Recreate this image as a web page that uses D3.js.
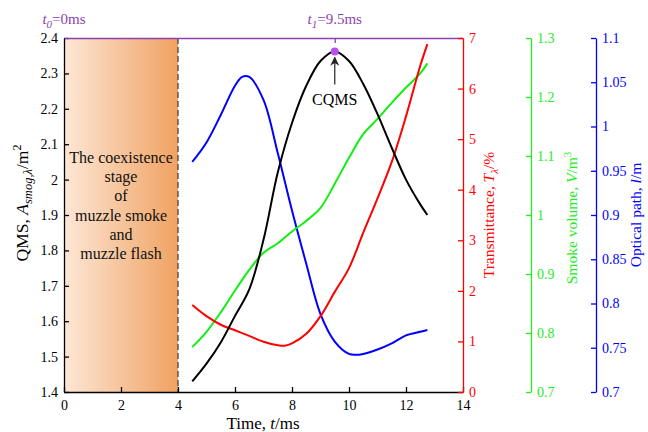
<!DOCTYPE html>
<html><head><meta charset="utf-8">
<script src="https://cdn.jsdelivr.net/npm/d3@7"></script>
<style>body{margin:0;background:#fff}svg{display:block}text{font-family:"Liberation Serif","Times New Roman",serif}</style>
</head><body><svg id="c" width="648" height="432"></svg>
<script>
const timeQMS = [4.5,5,5.5,6,6.5,7,7.5,8,8.5,9,9.5,10,10.5,11,11.5,12,12.5,12.75];
const qms     = [1.43,1.48,1.54,1.615,1.69,1.83,2.02,2.16,2.265,2.335,2.362,2.335,2.27,2.185,2.09,2.0,1.93,1.90];
const timeT   = [4.5,5,5.5,6,6.5,7,7.5,7.75,8,8.5,9,9.5,10,10.5,11,11.5,12,12.5,12.75];
const transm  = [1.72,1.50,1.33,1.22,1.11,0.995,0.925,0.915,0.96,1.15,1.50,1.98,2.45,3.15,3.83,4.55,5.45,6.45,6.88];
const timeV   = [4.5,5,5.5,6,6.5,7,7.5,8,8.5,9,9.5,10,10.5,11,11.5,12,12.5,12.75];
const volume  = [0.776,0.802,0.835,0.872,0.907,0.936,0.952,0.972,0.99,1.012,1.053,1.097,1.137,1.163,1.19,1.216,1.24,1.257];
const timeL   = [4.5,5,5.5,6,6.25,6.5,7,7.5,8,8.5,9,9.5,10,10.25,10.5,11,11.5,12,12.5,12.75];
const optPath = [0.960,0.982,1.013,1.046,1.056,1.056,1.030,0.970,0.905,0.845,0.788,0.757,0.743,0.742,0.743,0.748,0.755,0.764,0.768,0.770];
const xTicks = [0,2,4,6,8,10,12,14];
const qmsTicks = [1.4,1.5,1.6,1.7,1.8,1.9,2.0,2.1,2.2,2.3,2.4];
const tTicks = [0,1,2,3,4,5,6,7];
const vTicks = [0.7,0.8,0.9,1.0,1.1,1.2,1.3];
const lTicks = [0.7,0.75,0.8,0.85,0.9,0.95,1.0,1.05,1.1];
const stageLines = ["The coexistence","stage","of","muzzle smoke","and","muzzle flash"];
const stageEnd = 4, peakT = 9.5;

const svg = d3.select("#c");
const L=64,R=463,T=38,B=392;
const x = d3.scaleLinear().domain([0,14]).range([L,R]);
const yQ = d3.scaleLinear().domain([1.4,2.4]).range([B,T]);
const yT = d3.scaleLinear().domain([0,7]).range([B,T]);
const yV = d3.scaleLinear().domain([0.7,1.3]).range([B,T]);
const yL = d3.scaleLinear().domain([0.7,1.1]).range([B,T]);
const fmt = v => String(+v.toFixed(2));
const purple = "#8e3fae";

// gradient region
const defs = svg.append("defs");
const g = defs.append("linearGradient").attr("id","gr").attr("x1","0").attr("x2","1").attr("y1","0").attr("y2","0");
g.append("stop").attr("offset","0").attr("stop-color","#fde7d6");
g.append("stop").attr("offset","1").attr("stop-color","#f0a262");
svg.append("rect").attr("x",x(0)).attr("y",T).attr("width",x(stageEnd)-x(0)).attr("height",B-T).attr("fill","url(#gr)");
svg.append("line").attr("x1",x(stageEnd)).attr("x2",x(stageEnd)).attr("y1",T).attr("y2",B)
  .attr("stroke","#444").attr("stroke-width",1.3).attr("stroke-dasharray","6,3");
const st = svg.append("text").attr("text-anchor","middle").attr("font-size",16).attr("fill","#111");
stageLines.forEach((s,i)=>st.append("tspan").attr("x",x(2)).attr("y",163+i*19.2).text(s));

function axisStyle(sel,color){
  sel.selectAll("path").attr("stroke",color).attr("stroke-width",1.3);
  sel.selectAll("line").attr("stroke",color).attr("stroke-width",1.3);
  sel.selectAll("text").attr("fill",color).attr("font-size",14).attr("font-family","Liberation Serif");
}
// left axis
const aL = svg.append("g").attr("transform",`translate(${L},0)`)
  .call(d3.axisLeft(yQ).tickValues(qmsTicks).tickFormat(fmt).tickSizeInner(-5).tickSizeOuter(0).tickPadding(6));
axisStyle(aL,"#000");
// bottom axis
const aB = svg.append("g").attr("transform",`translate(0,${B})`)
  .call(d3.axisBottom(x).tickValues(xTicks).tickFormat(fmt).tickSizeInner(-5).tickSizeOuter(0).tickPadding(8));
axisStyle(aB,"#000");
// top purple line
const aT = svg.append("g").attr("transform",`translate(0,${T})`)
  .call(d3.axisBottom(x).tickValues([peakT]).tickFormat("").tickSizeInner(5).tickSizeOuter(0));
axisStyle(aT,purple);
// red axis
const aR = svg.append("g").attr("transform",`translate(${R},0)`)
  .call(d3.axisRight(yT).tickValues(tTicks).tickFormat(fmt).tickSizeInner(-5).tickSizeOuter(0).tickPadding(6));
axisStyle(aR,"#ff0000");
// green axis
const aV = svg.append("g").attr("transform",`translate(531,0)`)
  .call(d3.axisRight(yV).tickValues(vTicks).tickFormat(fmt).tickSizeInner(-5).tickSizeOuter(0).tickPadding(6));
axisStyle(aV,"#22ee22");
// blue axis
const aBl = svg.append("g").attr("transform",`translate(596,0)`)
  .call(d3.axisRight(yL).tickValues(lTicks).tickFormat(fmt).tickSizeInner(-5).tickSizeOuter(0).tickPadding(6));
axisStyle(aBl,"#0000ff");

// lines
function draw(ts,vs,ys,color){
  const line = d3.line().x(d=>x(d[0])).y(d=>ys(d[1])).curve(d3.curveCatmullRom.alpha(0.5));
  svg.append("path").datum(ts.map((t,i)=>[t,vs[i]])).attr("d",line)
    .attr("fill","none").attr("stroke",color).attr("stroke-width",2);
}
draw(timeL,optPath,yL,"#0000ff");
draw(timeV,volume,yV,"#11ee11");
draw(timeT,transm,yT,"#ff0000");
draw(timeQMS,qms,yQ,"#000");

// peak marker & annotation
const peakV = qms[timeQMS.indexOf(peakT)];
defs.append("marker").attr("id","ah").attr("viewBox","0 0 10 10").attr("refX",9).attr("refY",5)
  .attr("markerWidth",7).attr("markerHeight",9).attr("orient","auto")
  .append("path").attr("d","M0,0 L10,5 L0,10 L3,5 Z").attr("fill","#222");
svg.append("line").attr("x1",x(peakT)).attr("x2",x(peakT)).attr("y1",yQ(peakV)+33).attr("y2",yQ(peakV)+6)
  .attr("stroke","#333").attr("stroke-width",1.3).attr("marker-end","url(#ah)");
svg.append("circle").attr("cx",x(peakT)).attr("cy",yQ(peakV)).attr("r",4).attr("fill","#b84ff0");
svg.append("text").attr("x",x(peakT)).attr("y",yQ(peakV)+54).attr("text-anchor","middle").attr("font-size",16).text("CQMS");

// top labels
function tLabel(xp,sub,val){
  const t = svg.append("text").attr("x",xp).attr("y",24).attr("text-anchor","middle").attr("font-size",15).attr("fill",purple);
  t.append("tspan").attr("font-style","italic").text("t");
  t.append("tspan").attr("font-style","italic").attr("font-size",11).attr("dy",4).text(sub);
  t.append("tspan").attr("dy",-4).text("="+val+"ms");
}
tLabel(x(0),"0","0");
tLabel(x(peakT),"1",String(peakT));

// axis titles
const xt = svg.append("text").attr("x",263).attr("y",429).attr("text-anchor","middle").attr("font-size",17);
xt.append("tspan").text("Time, ");
xt.append("tspan").attr("font-style","italic").text("t");
xt.append("tspan").text("/ms");

function vLabel(xp,yp,color,size,parts){
  const t = svg.append("text").attr("transform",`translate(${xp},${yp}) rotate(-90)`).attr("text-anchor","middle")
    .attr("font-size",size).attr("fill",color);
  parts.forEach(p=>{
    const s=t.append("tspan").text(p.t);
    if(p.i) s.attr("font-style","italic");
    if(p.s) s.attr("font-size",p.s);
    if(p.dy) s.attr("dy",p.dy);
  });
}
vLabel(28,203,"#000",17.5,[{t:"QMS, "},{t:"A",i:1},{t:"smog,λ",i:1,s:12.5,dy:4},{t:"/m",dy:-4},{t:"2",s:12,dy:-7}]);
vLabel(494,215,"#ff0000",15.5,[{t:"Transmittance, "},{t:"T",i:1},{t:"λ",i:1,s:11,dy:4},{t:"/%",dy:-4}]);
vLabel(577,218,"#22ee22",15.5,[{t:"Smoke volume, "},{t:"V",i:1},{t:"/m"},{t:"3",s:11,dy:-6}]);
vLabel(641,215,"#0000ff",15.5,[{t:"Optical path, "},{t:"l",i:1},{t:"/m"}]);
</script></body></html>
